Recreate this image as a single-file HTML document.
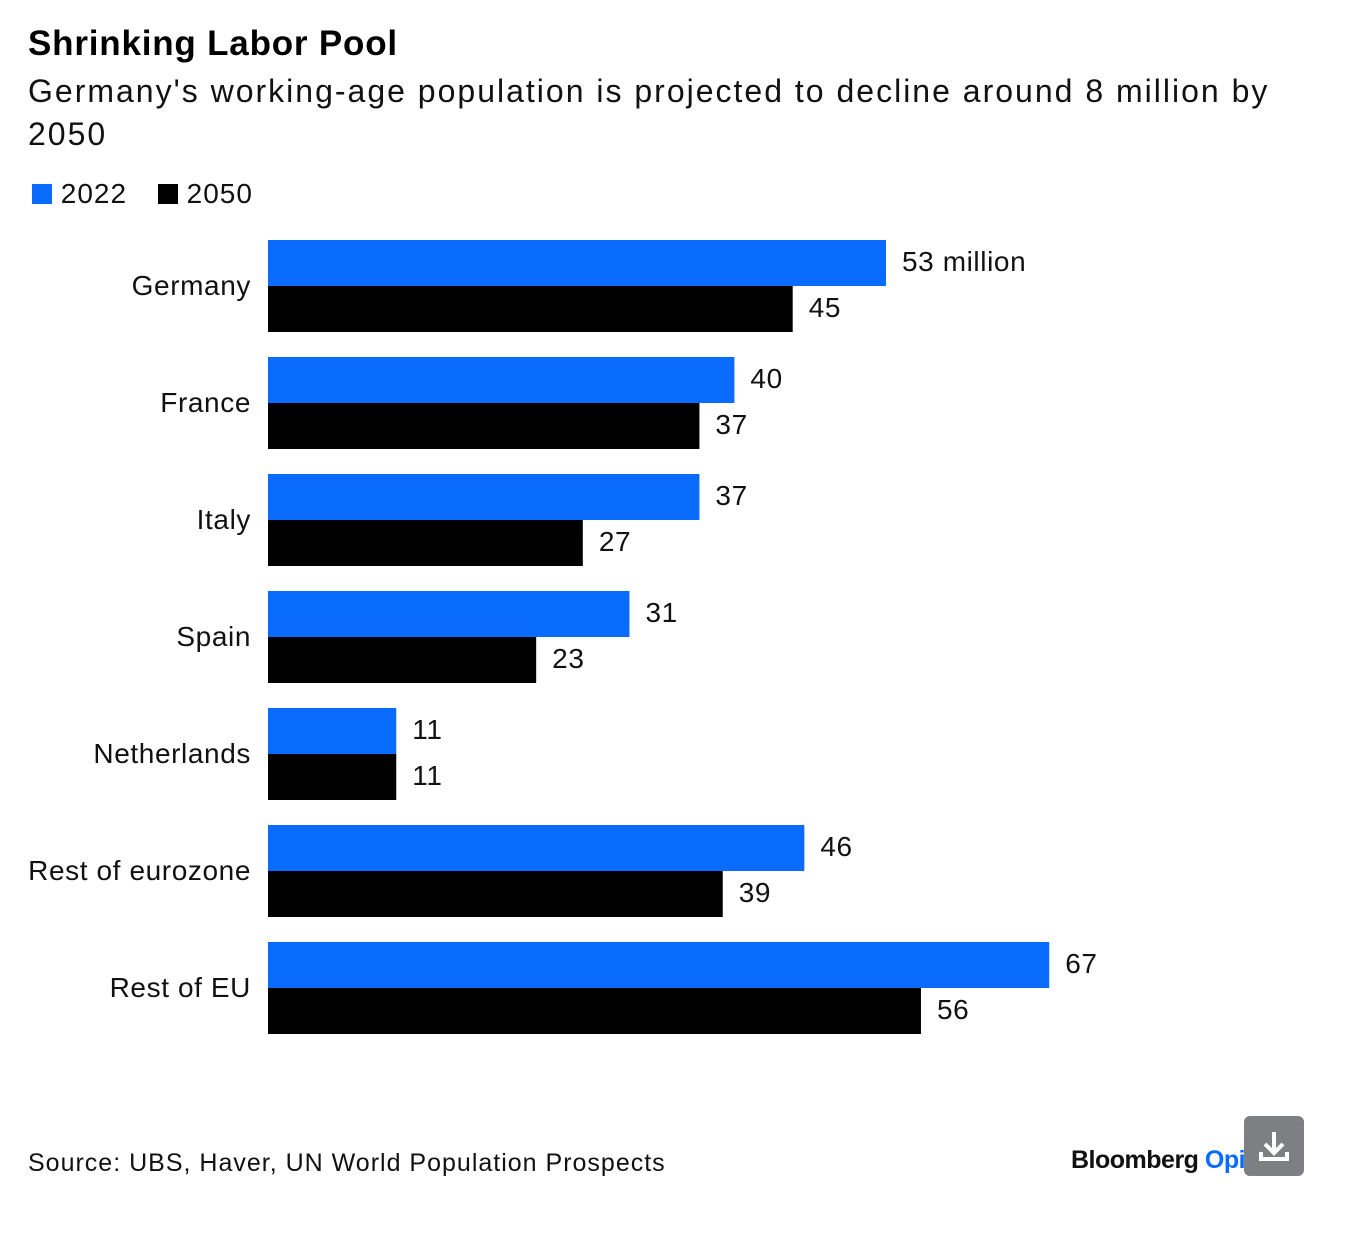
<!DOCTYPE html>
<html><head><meta charset="utf-8">
<style>
body{margin:0;width:1346px;height:1254px;background:#fff;font-family:"Liberation Sans",sans-serif;position:relative;overflow:hidden}
.abs{position:absolute;white-space:nowrap}
</style></head><body>
<div class="abs" style="left:28px;top:24px;font-size:35px;font-weight:bold;color:#000;letter-spacing:0.8px">Shrinking Labor Pool</div>
<div class="abs" style="left:28px;top:70px;font-size:32px;line-height:43px;color:#111;letter-spacing:2px">Germany's working-age population is projected to decline around 8 million by<br>2050</div>
<div class="abs" style="left:32px;top:178px;font-size:28px;color:#111;letter-spacing:1px">
<span><span style="display:inline-block;width:20px;height:20px;background:#0a6bff;vertical-align:-1px"></span> 2022</span>
<span style="margin-left:22px"><span style="display:inline-block;width:20px;height:20px;background:#000;vertical-align:-1px"></span> 2050</span>
</div>
<svg id="chart" width="1346" height="1254" style="position:absolute;left:0;top:0"></svg>
<div class="abs" style="left:28px;top:1149px;font-size:25px;color:#111;letter-spacing:1px">Source: UBS, Haver, UN World Population Prospects</div>
<div class="abs" style="left:1071px;top:1146px;font-size:25px;font-weight:bold;color:#111;letter-spacing:-0.5px">Bloomberg <span style="color:#0a6bff">Opi</span></div>
<div class="abs" style="left:1244px;top:1116px;width:60px;height:60px;background:#7d7f82;border-radius:6px">
<svg width="60" height="60"><path d="M30 16 V36 M21 28 L30 37 L39 28" stroke="#fff" stroke-width="4" fill="none"/><path d="M17 36 V43 H43 V36" stroke="#fff" stroke-width="4" fill="none"/></svg>
</div>
<script>
const categories=["Germany","France","Italy","Spain","Netherlands","Rest of eurozone","Rest of EU"];
const values2022=[53,40,37,31,11,46,67];
const values2050=[45,37,27,23,11,39,56];
const svg=document.getElementById('chart');
const NS="http://www.w3.org/2000/svg";
const x0=268, scale=11.66, top0=240, step=117, bh=46;
const xs=v=>x0+v*scale;
function mk(tag,attrs){const e=document.createElementNS(NS,tag);for(const k in attrs)e.setAttribute(k,attrs[k]);svg.appendChild(e);return e;}
categories.forEach((c,i)=>{
  const y=top0+i*step;
  const lab=mk('text',{x:251,y:y+bh+9,'text-anchor':'end','font-size':28,fill:'#111','font-family':'Liberation Sans','letter-spacing':0.6});
  lab.textContent=c;
  
  
  [[values2022[i],'#0a6bff',y,'2022'],[values2050[i],'#000',y+bh,'2050']].forEach(([v,col,yy,s])=>{
    const r=mk('rect',{x:x0,y:yy,width:xs(v)-x0,height:bh,fill:col});
    
    
    const t=mk('text',{x:xs(v)+16,y:yy+bh/2+8,'font-size':28,fill:'#111','font-family':'Liberation Sans','letter-spacing':0.6});
    t.textContent=(i===0&&s==='2022')?v+' million':String(v);
    
    
  });
});
</script>
</body></html>
